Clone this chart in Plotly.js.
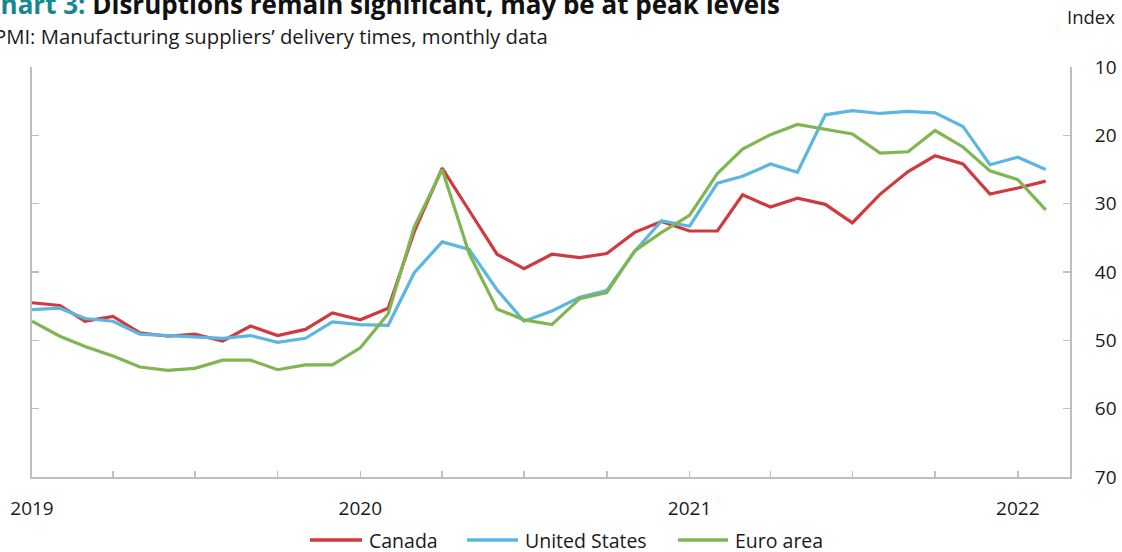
<!DOCTYPE html>
<html>
<head>
<meta charset="utf-8">
<script src="https://cdn.plot.ly/plotly-3.0.1.min.js"></script>
<style>html,body{margin:0;padding:0;background:#fff;}#chart{width:1122px;height:552px;}</style>
</head>
<body>
<div id="chart"></div>
<script>
const months = ['2019-01','2019-02','2019-03','2019-04','2019-05','2019-06','2019-07','2019-08','2019-09','2019-10','2019-11','2019-12',
  '2020-01','2020-02','2020-03','2020-04','2020-05','2020-06','2020-07','2020-08','2020-09','2020-10','2020-11','2020-12',
  '2021-01','2021-02','2021-03','2021-04','2021-05','2021-06','2021-07','2021-08','2021-09','2021-10','2021-11','2021-12',
  '2022-01','2022-02'];
const canada = [44.5,44.9,47.2,46.5,48.9,49.4,49.1,50.1,47.9,49.3,48.4,46.0,
  47.0,45.3,34.1,24.8,31.0,37.4,39.5,37.4,37.9,37.3,34.2,32.6,
  34.0,34.0,28.7,30.5,29.2,30.1,32.8,28.6,25.3,23.0,24.2,28.6,
  27.7,26.7];
const unitedStates = [45.5,45.3,46.8,47.2,49.1,49.3,49.6,49.7,49.3,50.3,49.7,47.3,
  47.7,47.8,40.1,35.6,36.7,42.6,47.2,45.7,43.7,42.7,37.0,32.5,
  33.3,27.0,26.0,24.2,25.4,17.0,16.4,16.8,16.5,16.7,18.7,24.3,
  23.2,25.0];
const euroArea = [47.2,49.4,50.9,52.3,53.9,54.4,54.1,52.9,52.9,54.3,53.6,53.6,
  51.1,46.1,33.4,25.0,37.3,45.4,47.0,47.7,43.9,43.0,36.9,34.2,
  31.7,25.6,22.0,19.9,18.4,19.1,19.8,22.6,22.4,19.3,21.7,25.2,
  26.5,30.9];
const yTicks = [10,20,30,40,50,60,70];
const seriesNames = ['Canada','United States','Euro area'];
const colors = ['#d03a3e','#5cb6df','#80b651'];

const FONT = '"Open Sans", "Noto Sans", sans-serif';
const AX = '#bfbfbf';
const W = 1122, H = 552, ML = 32, MR = 52, MT = 67, MB = 75;
const PW = W - ML - MR, PH = H - MT - MB;
const px = x => (x - ML) / PW;
const py = y => (H - MB - y) / PH;

const series = [canada, unitedStates, euroArea];
const traces = series.map((vals,k)=>({
  type:'scatter', mode:'lines', x: months.map(m=>m+'-01'), y: vals,
  name: seriesNames[k], line:{color:colors[k], width:3.2}, hoverinfo:'skip', showlegend:false
}));

// custom legend (positions only)
const legendLineX = [[310,362],[467,518],[678,728]];
const legendY = 540;
const shapes = legendLineX.map((seg,k)=>({type:'line', xref:'paper', yref:'paper',
  x0:px(seg[0]), x1:px(seg[1]), y0:py(legendY), y1:py(legendY), line:{color:colors[k], width:3.5}}));
const legendAnn = legendLineX.map((seg,k)=>({xref:'paper', yref:'paper', x:px(seg[1]+5), y:py(legendY),
  xanchor:'left', yanchor:'middle', showarrow:false, text:seriesNames[k],
  font:{family:FONT, size:19.5, color:'#1a1a1a'}}));

const layout = {
  width:W, height:H,
  margin:{l:ML, r:MR, t:MT, b:MB, pad:0, autoexpand:false},
  paper_bgcolor:'#fff', plot_bgcolor:'#fff',
  font:{family:FONT, size:19, color:'#1a1a1a'},
  showlegend:false,
  xaxis:{type:'date', range:['2019-01-01','2022-02-28'], showgrid:false, zeroline:false,
    showline:true, linecolor:AX, linewidth:2, mirror:false,
    tickvals: ['2019-01-01','2020-01-01','2021-01-01','2022-01-01'],
    ticktext: ['2019','2020','2021','2022'],
    ticks:'inside', ticklen:6, tickwidth:1.5, tickcolor:AX, ticklabelstandoff:13,
    minor:{dtick:'M3', tick0:'2019-01-01', ticks:'inside', ticklen:6, tickwidth:1.5, tickcolor:AX, showgrid:false},
    tickfont:{family:FONT, size:19, color:'#1a1a1a'}},
  yaxis:{side:'right', range:[70,10], tickvals:yTicks, showgrid:false, zeroline:false,
    showline:true, linecolor:AX, linewidth:2, mirror:'ticks',
    ticks:'inside', ticklen:7, tickwidth:1.5, tickcolor:AX, ticklabelstandoff:19,
    tickfont:{family:FONT, size:19, color:'#1a1a1a'}},
  shapes: shapes,
  annotations:[
    {xref:'paper', yref:'paper', x:0, xshift:-50, y:py(4), xanchor:'left', yanchor:'middle', showarrow:false,
     text:'<b><span style="color:#16878f">Chart 3:</span> Disruptions remain significant, may be at peak levels</b>',
     font:{family:FONT, size:26, color:'#111'}},
    {xref:'paper', yref:'paper', x:0, xshift:-40, y:py(36), xanchor:'left', yanchor:'middle', showarrow:false,
     text:'PMI: Manufacturing suppliers’ delivery times, monthly data', font:{family:FONT, size:20.3, color:'#1a1a1a'}},
    {xref:'paper', yref:'paper', x:1, xshift:21, y:py(17), xanchor:'center', yanchor:'middle', showarrow:false,
     text:'Index', font:{family:FONT, size:18.5, color:'#1a1a1a'}}
  ].concat(legendAnn)
};
Plotly.newPlot('chart', traces, layout, {displayModeBar:false, staticPlot:true});
</script>
</body>
</html>
